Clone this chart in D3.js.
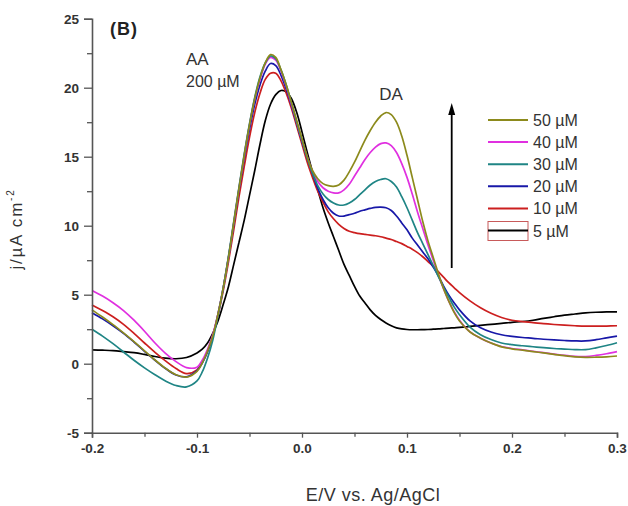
<!DOCTYPE html>
<html>
<head>
<meta charset="utf-8">
<script src="https://cdn.jsdelivr.net/npm/d3@7"></script>
<style>
  html, body { margin: 0; padding: 0; background: #fff; }
  svg { display: block; font-family: "Liberation Sans", Arial, sans-serif; }
</style>
</head>
<body>
<svg id="chart" width="628" height="506"></svg>
<script>
// Potential grid (V vs. Ag/AgCl)
const potential = [
  -0.2, -0.19, -0.18, -0.17, -0.16, -0.15, -0.14, -0.13, -0.12, -0.11, -0.1,
  -0.095, -0.09, -0.085, -0.08, -0.075, -0.07, -0.065, -0.06, -0.055, -0.05,
  -0.045, -0.04, -0.035, -0.03, -0.025, -0.02, -0.015, -0.01, -0.005, 0.0,
  0.005, 0.01, 0.015, 0.02, 0.025, 0.03, 0.035, 0.04, 0.045, 0.05,
  0.055, 0.06, 0.065, 0.07, 0.075, 0.08, 0.085, 0.09, 0.095, 0.1,
  0.105, 0.11, 0.115, 0.12, 0.125, 0.13, 0.135, 0.14, 0.145, 0.15,
  0.16, 0.17, 0.18, 0.19, 0.2, 0.21, 0.22, 0.23, 0.24, 0.25, 0.26, 0.27, 0.28, 0.29, 0.3
];

// Current density (µA cm^-2) for each dopamine concentration
const j5 = [
  1.0, 0.98, 0.95, 0.88, 0.8, 0.67, 0.52, 0.4, 0.36, 0.45, 0.78,
  1.05, 1.5, 2.2, 3.1, 4.3, 5.6, 7.2, 8.8, 10.4, 12.2,
  14.0, 15.9, 17.6, 18.8, 19.5, 19.8, 19.7, 19.2, 18.2, 16.8,
  15.3, 13.9, 12.6, 11.3, 10.2, 9.2, 8.2, 7.2, 6.4, 5.6,
  4.9, 4.4, 3.9, 3.5, 3.2, 2.95, 2.75, 2.6, 2.52, 2.48,
  2.46, 2.46, 2.47, 2.48, 2.5, 2.52, 2.55, 2.58, 2.6, 2.63,
  2.7, 2.78, 2.85, 2.92, 3.0, 3.06, 3.15, 3.28, 3.4, 3.52, 3.6, 3.68, 3.73, 3.76, 3.76
];
const j10 = [
  4.25, 3.85, 3.4, 2.85, 2.2, 1.5, 0.82, 0.2, -0.35, -0.72, -0.45,
  0.1, 0.9, 2.0, 3.5, 5.3, 7.4, 9.7, 12.1, 14.3, 16.4,
  18.2, 19.6, 20.6, 21.05, 21.05, 20.5, 19.6, 18.5, 17.2, 15.9,
  14.6, 13.5, 12.5, 11.7, 11.0, 10.5, 10.1, 9.8, 9.6, 9.5,
  9.42, 9.37, 9.32, 9.27, 9.2, 9.1, 9.0, 8.85, 8.7, 8.5,
  8.3, 8.05, 7.75, 7.4, 7.05, 6.65, 6.25, 5.85, 5.5, 5.15,
  4.55, 4.05, 3.65, 3.35, 3.15, 3.05, 2.98, 2.9, 2.84, 2.79, 2.75, 2.72, 2.72, 2.73, 2.75
];
const j20 = [
  3.7, 3.25, 2.75, 2.2, 1.57, 0.9, 0.25, -0.35, -0.82, -0.95, -0.5,
  0.05, 0.85, 2.0, 3.6, 5.5, 7.7, 10.1, 12.6, 14.9, 17.0,
  18.8, 20.2, 21.2, 21.75, 21.6, 20.9, 19.9, 18.7, 17.4, 16.1,
  14.9, 13.8, 12.7, 11.9, 11.3, 10.9, 10.7, 10.7, 10.8, 10.9,
  11.05, 11.15, 11.25, 11.33, 11.35, 11.3, 11.1, 10.7, 10.2, 9.7,
  9.1, 8.6, 8.1, 7.6, 7.0, 6.35, 5.6, 4.95, 4.4, 3.9,
  3.1, 2.6, 2.3, 2.1, 1.98, 1.9, 1.84, 1.77, 1.72, 1.68, 1.65, 1.65, 1.74, 1.87, 2.0
];
const j30 = [
  2.5, 2.0, 1.45, 0.85, 0.25, -0.3, -0.8, -1.25, -1.58, -1.68, -1.25,
  -0.6, 0.4, 1.7, 3.5, 5.5, 7.8, 10.3, 12.8, 15.2, 17.4,
  19.3, 20.8, 21.8, 22.3, 22.1, 21.3, 20.2, 18.9, 17.5, 16.2,
  14.9, 13.8, 12.9, 12.3, 11.9, 11.65, 11.5, 11.5, 11.65, 11.9,
  12.25, 12.6, 12.95, 13.2, 13.35, 13.4, 13.2, 12.8, 12.1, 11.3,
  10.4, 9.5, 8.7, 7.9, 7.1, 6.3, 5.5, 4.8, 4.1, 3.55,
  2.65, 2.1, 1.75, 1.5, 1.38, 1.3, 1.23, 1.16, 1.1, 1.06, 1.02, 1.02, 1.15, 1.32, 1.52
];
const j40 = [
  5.3, 4.9, 4.42, 3.85, 3.15, 2.35, 1.5, 0.75, 0.15, -0.28, -0.25,
  0.25, 1.05, 2.1, 3.6, 5.5, 7.7, 10.2, 12.7, 15.1, 17.3,
  19.2, 20.6, 21.7, 22.2, 22.0, 21.2, 20.1, 18.8, 17.5, 16.2,
  15.0, 13.9, 13.2, 12.75, 12.5, 12.38, 12.38, 12.6, 13.0, 13.6,
  14.2, 14.8, 15.3, 15.7, 15.95, 16.0, 15.8, 15.3, 14.5, 13.5,
  12.3, 11.0, 9.8, 8.6, 7.5, 6.4, 5.4, 4.5, 3.75, 3.15,
  2.3, 1.85, 1.5, 1.25, 1.1, 1.0, 0.9, 0.8, 0.7, 0.6, 0.53, 0.52, 0.6, 0.72, 0.87
];
const j50 = [
  3.9, 3.38, 2.83, 2.23, 1.6, 0.93, 0.27, -0.33, -0.8, -0.97, -0.55,
  0.05, 0.9, 2.0, 3.6, 5.5, 7.7, 10.2, 12.7, 15.1, 17.3,
  19.2, 20.7, 21.8, 22.4, 22.2, 21.3, 20.2, 18.9, 17.6, 16.3,
  15.0, 14.0, 13.4, 13.05, 12.9, 12.85, 12.95, 13.3, 13.9, 14.6,
  15.4, 16.2, 16.9, 17.5, 17.95, 18.2, 18.05, 17.5, 16.5, 15.1,
  13.5, 11.9, 10.3, 8.9, 7.7, 6.5, 5.4, 4.5, 3.7, 3.1,
  2.3, 1.85, 1.5, 1.22, 1.08, 0.98, 0.88, 0.78, 0.68, 0.58, 0.5, 0.46, 0.47, 0.5, 0.56
];

const seriesLabels = ["50 \u00B5M", "40 \u00B5M", "30 \u00B5M", "20 \u00B5M", "10 \u00B5M", "5 \u00B5M"];
const seriesColors = ["#8c8a1c", "#e030e0", "#1f8585", "#1818a8", "#cc1f1f", "#000000"];
const seriesValues = [j50, j40, j30, j20, j10, j5];

const xTicks = [-0.2, -0.1, 0.0, 0.1, 0.2, 0.3];
const xMinorTicks = [-0.15, -0.05, 0.05, 0.15, 0.25];
const yTicks = [-5, 0, 5, 10, 15, 20, 25];
const yMinorTicks = [-2.5, 2.5, 7.5, 12.5, 17.5, 22.5];

const svg = d3.select("#chart");
const margin = { left: 92, right: 11, top: 18.7, bottom: 73.3 };
const W = 628, H = 506;

const x = d3.scaleLinear().domain([-0.2, 0.3]).range([margin.left, W - margin.right]);
const y = d3.scaleLinear().domain([-5, 25]).range([H - margin.bottom, margin.top]);

const axisColor = "#555";
const labelColor = "#333";

// Curves (lowest concentration underneath)
const line = d3.line()
  .x((d, i) => x(potential[i]))
  .y(d => y(d))
  .curve(d3.curveCatmullRom.alpha(0.5));

const drawOrder = [5, 4, 3, 1, 2, 0];
svg.append("g").selectAll("path")
  .data(drawOrder)
  .join("path")
  .attr("d", k => line(seriesValues[k]))
  .attr("fill", "none")
  .attr("stroke", k => seriesColors[k])
  .attr("stroke-width", 1.7)
  .attr("stroke-linejoin", "round");

// Axes
function styleAxis(g) {
  g.select(".domain").attr("stroke", axisColor).attr("stroke-width", 1.6);
  g.selectAll(".tick line").attr("stroke", axisColor).attr("stroke-width", 1.3);
  g.selectAll(".tick text")
    .attr("fill", labelColor)
    .style("font-family", "'Liberation Sans', Arial, sans-serif")
    .style("font-size", "13.5px")
    .style("font-weight", "bold");
}

svg.append("g")
  .attr("transform", `translate(${margin.left},0)`)
  .call(d3.axisLeft(y).tickValues(yTicks).tickSize(8).tickPadding(5).tickFormat(d => String(d)))
  .call(styleAxis);
svg.append("g")
  .attr("transform", `translate(${margin.left},0)`)
  .call(d3.axisLeft(y).tickValues(yMinorTicks).tickSize(5).tickFormat(""))
  .call(styleAxis)
  .call(g => g.select(".domain").remove());

svg.append("g")
  .attr("transform", `translate(0,${H - margin.bottom})`)
  .call(d3.axisBottom(x).tickValues(xTicks).tickSize(5).tickPadding(6).tickFormat(d => d.toFixed(1)))
  .call(styleAxis);
svg.append("g")
  .attr("transform", `translate(0,${H - margin.bottom})`)
  .call(d3.axisBottom(x).tickValues(xMinorTicks).tickSize(4).tickFormat(""))
  .call(styleAxis)
  .call(g => g.select(".domain").remove());

// Axis titles
svg.append("text")
  .attr("x", 373).attr("y", 501)
  .attr("text-anchor", "middle")
  .attr("fill", labelColor)
  .style("font-size", "18px")
  .style("letter-spacing", "0.5px")
  .text("E/V vs. Ag/AgCl");

const yTitle = svg.append("text")
  .attr("transform", "translate(22,229) rotate(-90)")
  .attr("text-anchor", "middle")
  .attr("fill", labelColor)
  .style("font-size", "17px")
  .style("letter-spacing", "1.8px");
yTitle.append("tspan").text("j/\u00B5A cm");
yTitle.append("tspan").attr("dy", -8).style("font-size", "10px").text("-2");

// Panel label and peak annotations
svg.append("text")
  .attr("x", 110).attr("y", 35)
  .attr("fill", "#222")
  .style("font-size", "18px").style("font-weight", "bold")
  .style("letter-spacing", "1px")
  .text("(B)");

svg.append("text").attr("x", 186).attr("y", 65)
  .attr("fill", labelColor).style("font-size", "17px").text("AA");
svg.append("text").attr("x", 186).attr("y", 87)
  .attr("fill", labelColor).style("font-size", "16px").text("200 \u00B5M");
svg.append("text").attr("x", 391).attr("y", 100)
  .attr("text-anchor", "middle")
  .attr("fill", labelColor).style("font-size", "17px").text("DA");

// Increasing-concentration arrow
const arrowX = 451.7;
svg.append("line")
  .attr("x1", arrowX).attr("y1", 268)
  .attr("x2", arrowX).attr("y2", 112)
  .attr("stroke", "#000").attr("stroke-width", 1.8);
svg.append("path")
  .attr("d", `M${arrowX},103 L${arrowX - 3.5},115 L${arrowX + 3.5},115 Z`)
  .attr("fill", "#000");

// Legend
const legend = svg.append("g").attr("transform", "translate(488,120)");
const rowH = 22.1;
const rows = legend.selectAll("g")
  .data(seriesLabels.map((label, i) => ({ label, color: seriesColors[i], i })))
  .join("g")
  .attr("transform", d => `translate(0,${d.i * rowH})`);
rows.filter(d => d.i === seriesLabels.length - 1)
  .append("rect")
  .attr("x", 0).attr("y", -9).attr("width", 40).attr("height", 19)
  .attr("fill", "none").attr("stroke", "#c85a5a").attr("stroke-width", 1);
rows.append("line")
  .attr("x1", 0).attr("x2", 40).attr("y1", 0).attr("y2", 0)
  .attr("stroke", d => d.color).attr("stroke-width", 2);
rows.append("text")
  .attr("x", 45).attr("y", 6)
  .attr("fill", labelColor)
  .style("font-size", "16px")
  .text(d => d.label);
</script>
</body>
</html>
